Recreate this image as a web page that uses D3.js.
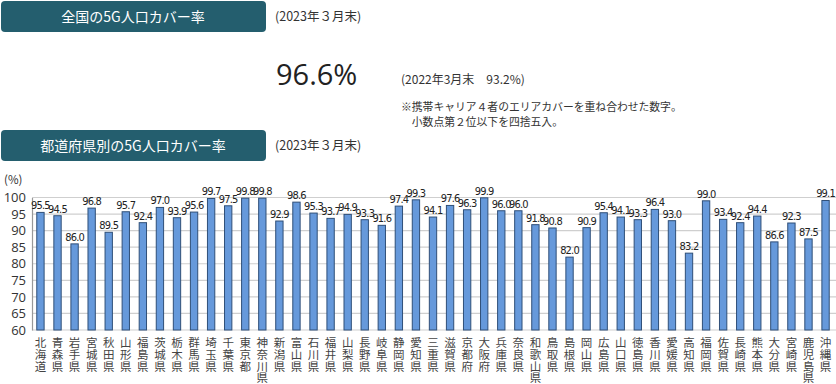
<!DOCTYPE html>
<html>
<head>
<meta charset="utf-8">
<script src="https://cdn.jsdelivr.net/npm/d3@7"></script>
<style>
  body { margin: 0; background: #fff; }
  text { font-family: "Noto Sans CJK JP", "Noto Sans", sans-serif; }
</style>
</head>
<body>
<div id="main"></div>
<script>
// data
var prefectures = ["北海道","青森県","岩手県","宮城県","秋田県","山形県","福島県","茨城県","栃木県","群馬県",
  "埼玉県","千葉県","東京都","神奈川県","新潟県","富山県","石川県","福井県","山梨県","長野県",
  "岐阜県","静岡県","愛知県","三重県","滋賀県","京都府","大阪府","兵庫県","奈良県","和歌山県",
  "鳥取県","島根県","岡山県","広島県","山口県","徳島県","香川県","愛媛県","高知県","福岡県",
  "佐賀県","長崎県","熊本県","大分県","宮崎県","鹿児島県","沖縄県"];
var coverage = [95.5,94.5,86.0,96.8,89.5,95.7,92.4,97.0,93.9,95.6,
  99.7,97.5,99.8,99.8,92.9,98.6,95.3,93.7,94.9,93.3,
  91.6,97.4,99.3,94.1,97.6,96.3,99.9,96.0,96.0,91.8,
  90.8,82.0,90.9,95.4,94.1,93.3,96.4,93.0,83.2,99.0,
  93.4,92.4,94.4,86.6,92.3,87.5,99.1];
var yTicks = [60,65,70,75,80,85,90,95,100];

var W = 836, H = 384;
var svg = d3.select("#main").append("svg")
  .attr("width", W).attr("height", H);

// header boxes
function header(y, label) {
  svg.append("rect")
    .attr("x", 1).attr("y", y).attr("width", 265).attr("height", 31)
    .attr("rx", 4).attr("fill", "#245e6e");
  svg.append("text")
    .attr("x", 133).attr("y", y + 16).attr("dy", "0.35em")
    .attr("text-anchor", "middle").attr("fill", "#fff")
    .style("font-size", "14px")
    .text(label);
  svg.append("text")
    .attr("x", 275).attr("y", y + 16).attr("dy", "0.35em")
    .attr("fill", "#333").style("font-size", "12.5px")
    .text("(2023年３月末)");
}
header(1, "全国の5G人口カバー率");
header(130, "都道府県別の5G人口カバー率");

svg.append("text")
  .attr("x", 276).attr("y", 85)
  .attr("fill", "#222").style("font-size", "29px")
  .style("font-family", "'Open Sans', sans-serif")
  .text("96.6%");
svg.append("text")
  .attr("x", 401).attr("y", 80).attr("dy", "0.35em")
  .attr("fill", "#333").style("font-size", "12px")
  .text("(2022年3月末　93.2%)");
svg.append("text")
  .attr("x", 401).attr("y", 107).attr("dy", "0.35em")
  .attr("fill", "#333").style("font-size", "10.8px")
  .text("※携帯キャリア４者のエリアカバーを重ね合わせた数字。");
svg.append("text")
  .attr("x", 401).attr("y", 122).attr("dy", "0.35em")
  .attr("fill", "#333").style("font-size", "10.8px")
  .text("　小数点第２位以下を四捨五入。");

// chart
var margin = {top: 197.5, left: 32, right: 2, bottom: 54};
var plotH = H - margin.top - margin.bottom;

var x = d3.scaleBand()
  .domain(prefectures)
  .range([margin.left, W - margin.right])
  .paddingInner(0.57).paddingOuter(0.28);

var y = d3.scaleLinear()
  .domain([60, 100])
  .range([margin.top + plotH, margin.top]);

// gridlines
svg.append("g")
  .selectAll("line")
  .data(yTicks)
  .enter().append("line")
    .attr("x1", margin.left).attr("x2", W)
    .attr("y1", function(d) { return y(d); })
    .attr("y2", function(d) { return y(d); })
    .attr("stroke", "#cfcfcf").attr("stroke-width", 1.2);

// y axis
var yAxis = svg.append("g")
  .attr("transform", "translate(" + margin.left + ",0)")
  .call(d3.axisLeft(y).tickValues(yTicks).tickSize(0).tickPadding(6));
yAxis.select(".domain").attr("stroke", "#999").attr("stroke-width", 1.2);
yAxis.selectAll("text")
  .attr("fill", "#333")
  .style("font-size", "13px")
  .style("font-family", "'Open Sans', sans-serif");

svg.append("text")
  .attr("x", 4).attr("y", 180).attr("dy", "0.35em")
  .attr("fill", "#333").style("font-size", "11.5px")
  .text("(%)");

// bars
svg.append("g")
  .selectAll("rect")
  .data(coverage)
  .enter().append("rect")
    .attr("x", function(d, i) { return x(prefectures[i]); })
    .attr("y", function(d) { return y(d); })
    .attr("width", x.bandwidth())
    .attr("height", function(d) { return y(60) - y(d); })
    .attr("fill", "#6699db")
    .attr("stroke", "#2f4f78")
    .attr("stroke-width", 1);

// value labels
svg.append("g")
  .selectAll("text")
  .data(coverage)
  .enter().append("text")
    .attr("x", function(d, i) { return x(prefectures[i]) + x.bandwidth() / 2; })
    .attr("y", function(d) { return y(d) - 3; })
    .attr("text-anchor", "middle")
    .attr("fill", "#222")
    .style("font-size", "11px")
    .style("font-family", "'Liberation Sans Narrow', 'DejaVu Sans Condensed', sans-serif")
    .style("letter-spacing", "-0.8px")
    .text(function(d) { return d.toFixed(1); });

// x labels, one character per cell, set vertically
var chars = [];
prefectures.forEach(function(name) {
  name.split("").forEach(function(ch, k) {
    chars.push({name: name, ch: ch, k: k});
  });
});
svg.append("g")
  .selectAll("text")
  .data(chars)
  .enter().append("text")
    .attr("x", function(d) { return x(d.name) + x.bandwidth() / 2; })
    .attr("y", function(d) { return 337.3 + d.k * 11.6; })
    .attr("fill", "#444")
    .style("font-size", "11.5px")
    .style("writing-mode", "vertical-rl")
    .style("text-orientation", "upright")
    .text(function(d) { return d.ch; });
</script>
</body>
</html>
